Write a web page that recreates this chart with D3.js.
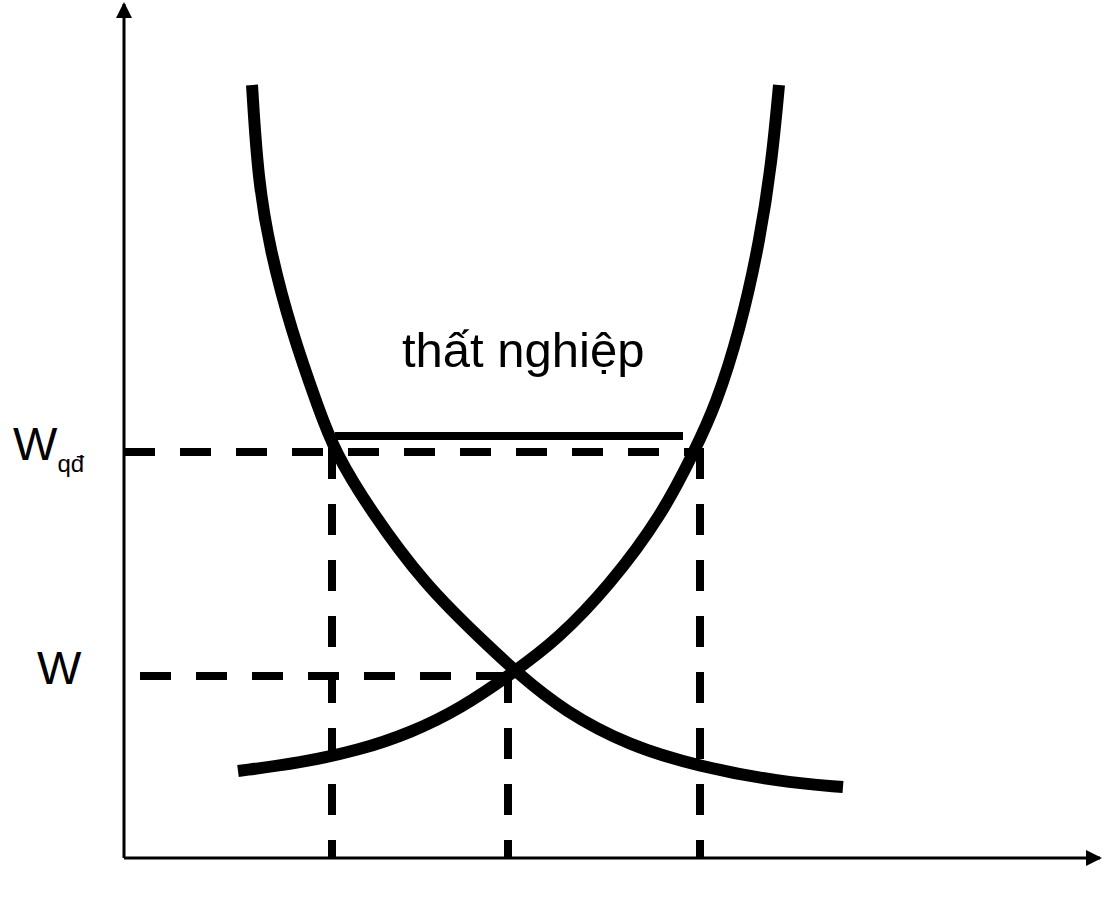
<!DOCTYPE html>
<head>
  <meta charset="utf-8">
  <script src="https://d3js.org/d3.v7.min.js"></script>
  <style>
    body { margin: 0; background: #fff; }
    svg { display: block; }
    text { font-family: "Liberation Sans", Arial, sans-serif; fill: #000; }
  </style>
</head>
<body>
  <div id="chart"></div>
  <script>

  // quantity (x) and wage (y) in chart units
  var demandQ = [128, 134, 146, 167, 195, 211, 246, 301, 358, 392, 441, 506, 573, 656, 719],
      demandW = [773, 678, 608, 528, 448, 406, 348, 273, 218, 186, 146, 112, 92, 76, 71];

  var supplyQ = [114, 176, 236, 286, 336, 390, 433, 486, 538, 570, 592, 616, 636, 648, 655],
      supplyW = [87, 95, 108, 125, 149, 186, 218, 273, 343, 406, 453, 528, 618, 698, 773];

  var wageLevels = [406, 182],        // W_qd, W
      wageLabels = ["W", "W"],
      wageSubs = ["qđ", ""],
      qLevels = [208, 384, 576];      // employment at the two wages

  var surplusW = 422, surplusQ = [211, 559];
  var gapLabel = "thất nghiệp";

  var margin = {left: 124, top: 8, right: 7, bottom: 65},
      width = 1107, height = 923;

  var x = d3.scaleLinear().domain([0, 976]).range([margin.left, width - margin.right]),
      y = d3.scaleLinear().domain([0, 850]).range([height - margin.bottom, margin.top]);

  var svg = d3.select("#chart").append("svg")
      .attr("width", width)
      .attr("height", height);

  var defs = svg.append("defs");
  defs.append("marker")
      .attr("id", "arrow")
      .attr("viewBox", "0 0 16 16")
      .attr("refX", 14).attr("refY", 8)
      .attr("markerWidth", 16).attr("markerHeight", 16)
      .attr("markerUnits", "userSpaceOnUse")
      .attr("orient", "auto")
    .append("path")
      .attr("d", "M0,0 L16,8 L0,16 Z")
      .attr("fill", "#000");

  // axes
  svg.append("line")
      .attr("x1", x(0)).attr("y1", y(0))
      .attr("x2", x(0)).attr("y2", 4)
      .attr("stroke", "#000").attr("stroke-width", 3)
      .attr("marker-end", "url(#arrow)");
  svg.append("line")
      .attr("x1", x(0)).attr("y1", y(0))
      .attr("x2", 1100).attr("y2", y(0))
      .attr("stroke", "#000").attr("stroke-width", 3)
      .attr("marker-end", "url(#arrow)");

  // dashed guides
  var dash = "31,25";
  svg.append("line")
      .attr("x1", x(0)).attr("y1", y(wageLevels[0]))
      .attr("x2", x(qLevels[2]) + 4).attr("y2", y(wageLevels[0]))
      .attr("stroke", "#000").attr("stroke-width", 8).attr("stroke-dasharray", dash);
  svg.append("line")
      .attr("x1", x(16)).attr("y1", y(wageLevels[1]))
      .attr("x2", x(qLevels[1]) + 4).attr("y2", y(wageLevels[1]))
      .attr("stroke", "#000").attr("stroke-width", 8).attr("stroke-dasharray", dash);

  var vTop = [wageLevels[0], wageLevels[1], wageLevels[0]];
  svg.selectAll(".vguide")
      .data(qLevels)
    .enter().append("line")
      .attr("class", "vguide")
      .attr("x1", function(d) { return x(d); })
      .attr("x2", function(d) { return x(d); })
      .attr("y1", function(d, i) { return y(vTop[i]) - 4; })
      .attr("y2", y(0))
      .attr("stroke", "#000").attr("stroke-width", 8).attr("stroke-dasharray", dash);

  // curves
  var line = d3.line()
      .x(function(d) { return x(d[0]); })
      .y(function(d) { return y(d[1]); })
      .curve(d3.curveBasis);

  var demand = d3.zip(demandQ, demandW),
      supply = d3.zip(supplyQ, supplyW);

  svg.selectAll(".curve")
      .data([demand, supply])
    .enter().append("path")
      .attr("class", "curve")
      .attr("d", line)
      .attr("fill", "none")
      .attr("stroke", "#000")
      .attr("stroke-width", 12);

  // unemployment gap
  svg.append("line")
      .attr("x1", x(surplusQ[0])).attr("y1", y(surplusW))
      .attr("x2", x(surplusQ[1])).attr("y2", y(surplusW))
      .attr("stroke", "#000").attr("stroke-width", 8);

  svg.append("text")
      .attr("x", 402).attr("y", 367)
      .style("font-size", "49px")
      .text(gapLabel);

  // wage labels
  var lab = svg.selectAll(".wlab")
      .data(wageLevels)
    .enter().append("text")
      .attr("class", "wlab")
      .attr("x", function(d, i) { return i == 0 ? 13 : 37; })
      .attr("y", function(d) { return y(d) + 8; })
      .style("font-size", "47px")
      .text(function(d, i) { return wageLabels[i]; });

  lab.append("tspan")
      .attr("dy", 12)
      .style("font-size", "24px")
      .text(function(d, i) { return wageSubs[i]; });

  </script>
</body>
